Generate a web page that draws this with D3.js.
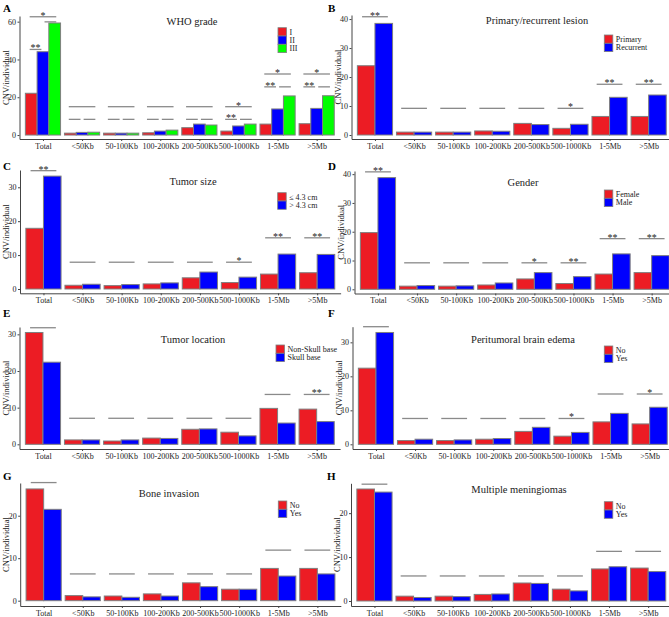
<!DOCTYPE html>
<html>
<head>
<meta charset="utf-8">
<script src="https://cdn.jsdelivr.net/npm/d3@7"></script>
<style>
  body { margin: 0; background: #fff; }
  text { font-family: 'Liberation Serif', 'Times New Roman', serif; fill: #222; }
</style>
</head>
<body>
<div id="container"></div>
<script>
// categories on the x axis
const categories = ['Total', '<50Kb', '50-100Kb', '100-200Kb', '200-500Kb', '500-1000Kb', '1-5Mb', '>5Mb'];

// A. WHO grade
const whoI = [22.1, 1.0, 1.0, 1.2, 3.9, 2.1, 5.8, 6.0];
const whoII = [44.1, 1.4, 1.0, 2.1, 5.8, 4.8, 13.8, 14.1];
const whoIII = [59.3, 1.5, 1.0, 2.6, 5.3, 5.8, 20.7, 20.8];
// B. primary / recurrent
const primary = [23.9, 1.0, 1.0, 1.4, 4.0, 2.3, 6.4, 6.4];
const recurrent = [38.5, 1.0, 1.0, 1.3, 3.6, 3.7, 13.0, 13.8];
// C. tumor size
const sizeSmall = [17.9, 1.1, 1.0, 1.5, 3.3, 1.9, 4.4, 4.8];
const sizeLarge = [33.3, 1.4, 1.3, 1.8, 5.0, 3.5, 10.3, 10.2];
// D. gender
const female = [19.7, 1.1, 1.1, 1.5, 3.6, 2.0, 5.3, 5.8];
const male = [38.8, 1.3, 1.2, 2.2, 5.8, 4.4, 12.3, 11.7];
// E. tumor location
const nonSkullBase = [30.5, 1.2, 0.9, 1.7, 4.1, 3.3, 9.8, 9.6];
const skullBase = [22.4, 1.2, 1.2, 1.6, 4.2, 2.3, 5.8, 6.2];
// F. peritumoral brain edema
const edemaNo = [22.4, 1.1, 1.1, 1.5, 3.8, 2.4, 6.6, 6.0];
const edemaYes = [32.9, 1.5, 1.3, 1.7, 5.0, 3.5, 9.1, 10.9];
// G. bone invasion
const boneNo = [26.3, 1.2, 1.1, 1.6, 4.2, 2.7, 7.6, 7.6];
const boneYes = [21.5, 0.9, 0.8, 1.1, 3.3, 2.7, 5.8, 6.3];
// H. multiple meningiomas
const multiNo = [25.5, 1.1, 1.1, 1.5, 4.1, 2.7, 7.3, 7.5];
const multiYes = [24.8, 0.8, 1.0, 1.6, 4.0, 2.3, 7.8, 6.7];

// significance bars: [category index, compared pair, height, mark]
const whoSig = [
  [0, '13', 62.6, '*'], [0, '12', 45.3, '**'], [0, '23', 59.9, ''],
  [1, '13', 15, ''], [1, '12', 8.3, ''], [1, '23', 8.3, ''],
  [2, '13', 15, ''], [2, '12', 8.3, ''], [2, '23', 8.3, ''],
  [3, '13', 15, ''], [3, '12', 8.3, ''], [3, '23', 8.3, ''],
  [4, '13', 15, ''], [4, '12', 8.3, ''], [4, '23', 8.3, ''],
  [5, '13', 15, '*'], [5, '12', 8.3, '**'], [5, '23', 8.3, ''],
  [6, '13', 32.3, '*'], [6, '12', 25.5, '**'], [6, '23', 25.5, ''],
  [7, '13', 32.3, '*'], [7, '12', 25.5, '**'], [7, '23', 25.5, '']
];
const primarySig = [[0, '12', 40.8, '**'], [1, '12', 9.2, ''], [2, '12', 9.2, ''], [3, '12', 9.2, ''],
  [4, '12', 9.2, ''], [5, '12', 9.2, '*'], [6, '12', 17.5, '**'], [7, '12', 17.5, '**']];
const sizeSig = [[0, '12', 34.9, '**'], [1, '12', 7.9, ''], [2, '12', 7.9, ''], [3, '12', 7.9, ''],
  [4, '12', 7.9, ''], [5, '12', 7.9, '*'], [6, '12', 15.1, '**'], [7, '12', 15.1, '**']];
const genderSig = [[0, '12', 40.8, '**'], [1, '12', 9.2, ''], [2, '12', 9.2, ''], [3, '12', 9.2, ''],
  [4, '12', 9.2, '*'], [5, '12', 9.2, '**'], [6, '12', 17.6, '**'], [7, '12', 17.6, '**']];
const locationSig = [[0, '12', 31.8, ''], [1, '12', 7.1, ''], [2, '12', 7.1, ''], [3, '12', 7.1, ''],
  [4, '12', 7.1, ''], [5, '12', 7.1, ''], [6, '12', 13.6, ''], [7, '12', 13.6, '**']];
const edemaSig = [[0, '12', 34.6, ''], [1, '12', 7.6, ''], [2, '12', 7.6, ''], [3, '12', 7.6, ''],
  [4, '12', 7.6, ''], [5, '12', 7.6, '*'], [6, '12', 14.8, ''], [7, '12', 14.8, '*']];
const boneSig = [[0, '12', 27.8, ''], [1, '12', 6.3, ''], [2, '12', 6.3, ''], [3, '12', 6.3, ''],
  [4, '12', 6.3, ''], [5, '12', 6.3, ''], [6, '12', 11.9, ''], [7, '12', 11.9, '']];
const multiSig = [[0, '12', 26.6, ''], [1, '12', 5.7, ''], [2, '12', 5.7, ''], [3, '12', 5.7, ''],
  [4, '12', 5.7, ''], [5, '12', 5.7, ''], [6, '12', 11.3, ''], [7, '12', 11.3, '']];

// y ticks and y limits
const ticks40 = [0, 10, 20, 30, 40];
const ticks30 = [0, 10, 20, 30];
const ticks20 = [0, 10, 20];

const panels = [
  {letter: 'A', title: 'WHO grade', groups: ['I', 'II', 'III'], series: [whoI, whoII, whoIII], sig: whoSig, ticks: [0, 20, 40, 60], yLim: [-2.1, 63.0]},
  {letter: 'B', title: 'Primary/recurrent lesion', groups: ['Primary', 'Recurrent'], series: [primary, recurrent], sig: primarySig, ticks: ticks40, yLim: [-1.38, 41.4]},
  {letter: 'C', title: 'Tumor size', groups: ['≤ 4.3 cm', '> 4.3 cm'], series: [sizeSmall, sizeLarge], sig: sizeSig, ticks: ticks30, yLim: [-1.27, 35.1]},
  {letter: 'D', title: 'Gender', groups: ['Female', 'Male'], series: [female, male], sig: genderSig, ticks: ticks40, yLim: [-1.46, 41.1]},
  {letter: 'E', title: 'Tumor location', groups: ['Non-Skull base', 'Skull base'], series: [nonSkullBase, skullBase], sig: locationSig, ticks: ticks30, yLim: [-1.28, 32.0]},
  {letter: 'F', title: 'Peritumoral brain edema', groups: ['No', 'Yes'], series: [edemaNo, edemaYes], sig: edemaSig, ticks: ticks30, yLim: [-1.38, 34.6]},
  {letter: 'G', title: 'Bone invasion', groups: ['No', 'Yes'], series: [boneNo, boneYes], sig: boneSig, ticks: ticks20, yLim: [-1.25, 27.7]},
  {letter: 'H', title: 'Multiple meningiomas', groups: ['No', 'Yes'], series: [multiNo, multiYes], sig: multiSig, ticks: ticks20, yLim: [-1.14, 26.8]}
];

// where each panel sits on the page
const layout = [
  {x0: 19.5, top: 16, bottom: 139, title: [192, 21], legend: [278, 27.7], letter: [3, 12]},
  {x0: 351.5, top: 15, bottom: 139, title: [537, 20], legend: [604.3, 35], letter: [328, 12]},
  {x0: 20, top: 170, bottom: 293.3, title: [193, 181], legend: [277.7, 192.7], letter: [3, 170]},
  {x0: 354.5, top: 171, bottom: 293.5, title: [523, 182], legend: [604.3, 190], letter: [328, 170]},
  {x0: 19.5, top: 327, bottom: 449, title: [193, 339], legend: [276, 345], letter: [3, 317]},
  {x0: 352.5, top: 326.7, bottom: 449, title: [523, 339], legend: [604.3, 346], letter: [328, 317]},
  {x0: 20.2, top: 483, bottom: 606, title: [169, 493], legend: [278.3, 501], letter: [3, 480]},
  {x0: 351, top: 483.3, bottom: 606, title: [519, 489], legend: [604.3, 501.7], letter: [327, 480]}
];

const colors = ['#ec1c24', '#0000fe', '#00fe00'];
const step = 39.1;
const lineColor = '#8a8a8a';

const svg = d3.select('#container')
  .append('svg')
  .attr('width', 669)
  .attr('height', 617);

// span of a significance bar in units of the category step
const spans2 = {'12': [-0.33, 0.33]};
const spans3 = {'13': [-0.34, 0.34], '12': [-0.34, -0.04], '23': [0.04, 0.34]};

panels.forEach((p, i) => {
  const L = layout[i];
  const g = svg.append('g');

  const x = d3.scalePoint()
    .domain(categories)
    .range([L.x0, L.x0 + 8.2 * step])
    .padding(0.6);
  const s = x.step();
  const xs = d3.scaleBand()
    .domain(p.groups)
    .range([-0.45 * s, 0.45 * s]);
  const y = d3.scaleLinear()
    .domain(p.yLim)
    .range([L.bottom, L.top]);

  // bars
  p.series.forEach((vals, si) => {
    g.selectAll(`.bar${si}`)
      .data(vals)
      .enter()
      .append('rect')
      .attr('x', (d, ci) => x(categories[ci]) + xs(p.groups[si]))
      .attr('y', d => y(d))
      .attr('width', xs.bandwidth())
      .attr('height', d => y(0) - y(d))
      .attr('fill', colors[si])
      .attr('stroke', '#7f7f7f')
      .attr('stroke-width', 1);
  });

  // significance bars
  const spans = p.groups.length === 3 ? spans3 : spans2;
  p.sig.forEach(([ci, pair, v, mark]) => {
    const cx = x(categories[ci]);
    const [a, b] = spans[pair];
    g.append('line')
      .attr('x1', cx + a * s)
      .attr('x2', cx + b * s)
      .attr('y1', y(v))
      .attr('y2', y(v))
      .attr('stroke', lineColor)
      .attr('stroke-width', 1.3);
    if (mark) {
      g.append('text')
        .attr('x', cx + (a + b) / 2 * s)
        .attr('y', y(v) + 2)
        .attr('text-anchor', 'middle')
        .attr('font-size', 10)
        .text(mark);
    }
  });

  // axes
  const yAxis = g.append('g')
    .attr('transform', `translate(${L.x0},0)`)
    .call(d3.axisLeft(y).tickValues(p.ticks).tickSize(2).tickSizeOuter(0).tickPadding(1.5));
  const xAxis = g.append('g')
    .attr('transform', `translate(0,${L.bottom})`)
    .call(d3.axisBottom(x).tickSize(2).tickSizeOuter(0).tickPadding(2));
  [yAxis, xAxis].forEach(ax => {
    ax.selectAll('path, line').attr('stroke', '#444');
    ax.selectAll('text')
      .attr('font-family', "'Liberation Serif', serif")
      .attr('font-size', 8)
      .attr('fill', '#222');
  });

  g.append('text')
    .attr('transform', `translate(${L.x0 - 11},${(L.top + L.bottom) / 2}) rotate(-90)`)
    .attr('text-anchor', 'middle')
    .attr('font-size', 8.5)
    .text('CNV/individual');

  // title
  g.append('text')
    .attr('x', L.title[0])
    .attr('y', L.title[1] + 3.5)
    .attr('text-anchor', 'middle')
    .attr('font-size', 10.5)
    .text(p.title);

  // legend
  p.groups.forEach((name, gi) => {
    const ly = L.legend[1] + gi * 8.3;
    g.append('rect')
      .attr('x', L.legend[0])
      .attr('y', ly)
      .attr('width', 8.5)
      .attr('height', 8.3)
      .attr('fill', colors[gi])
      .attr('stroke', '#7f7f7f')
      .attr('stroke-width', 0.8);
    g.append('text')
      .attr('x', L.legend[0] + 11.5)
      .attr('y', ly + 7)
      .attr('font-size', 8)
      .text(name);
  });

  // panel letter
  g.append('text')
    .attr('x', L.letter[0])
    .attr('y', L.letter[1])
    .attr('font-family', "'Liberation Sans', Arial, sans-serif")
    .attr('font-weight', 'bold')
    .attr('font-size', 11)
    .style('fill', '#000')
    .text(p.letter);
});
</script>
</body>
</html>
